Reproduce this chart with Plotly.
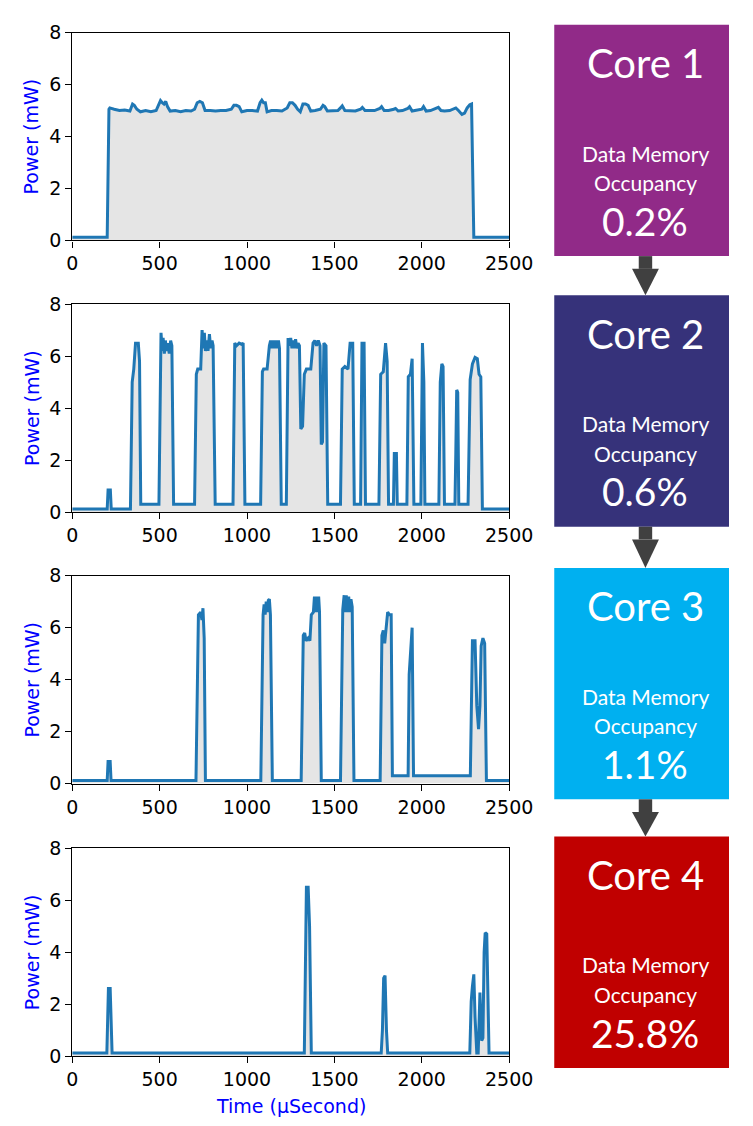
import plotly.graph_objects as go

W, H = 753, 1126

# ---------------- data ----------------
T1 = [0, 200, 210, 215, 240, 270, 300, 330, 345, 355, 370, 390, 420, 450, 480, 495, 505, 515, 525, 535, 545, 560, 590, 620, 650, 680, 700, 715, 730, 745, 760, 790, 820, 850, 880, 910, 925, 940, 955, 970, 1000, 1030, 1060, 1075, 1085, 1095, 1105, 1115, 1140, 1170, 1200, 1230, 1245, 1260, 1275, 1290, 1305, 1320, 1335, 1350, 1365, 1390, 1420, 1435, 1445, 1460, 1490, 1520, 1535, 1545, 1560, 1590, 1620, 1650, 1660, 1675, 1700, 1730, 1760, 1770, 1785, 1810, 1840, 1850, 1865, 1890, 1920, 1930, 1945, 1970, 2000, 2010, 2025, 2050, 2080, 2095, 2110, 2130, 2160, 2185, 2195, 2210, 2230, 2245, 2260, 2275, 2285, 2298, 2500]
P1 = [0.12, 0.12, 5.05, 5.1, 5.05, 5.0, 5.02, 4.98, 5.25, 5.2, 5.05, 4.95, 5.0, 4.95, 5.0, 5.2, 5.38, 5.3, 5.25, 5.35, 5.15, 4.98, 5.0, 4.95, 5.0, 4.98, 5.05, 5.3, 5.35, 5.3, 5.0, 5.0, 4.98, 5.0, 5.0, 5.05, 5.2, 5.2, 5.15, 4.95, 5.0, 5.0, 4.98, 5.3, 5.4, 5.3, 5.3, 4.95, 5.0, 5.0, 4.98, 5.1, 5.3, 5.3, 5.2, 5.05, 4.95, 5.25, 5.25, 5.2, 4.98, 5.0, 5.05, 5.2, 5.15, 4.98, 5.0, 5.0, 5.1, 5.18, 5.0, 5.0, 4.98, 5.05, 5.12, 5.0, 5.0, 5.0, 5.08, 5.15, 5.0, 5.0, 5.05, 5.08, 4.98, 5.0, 5.08, 5.15, 4.98, 5.0, 5.05, 5.15, 4.98, 5.0, 5.08, 5.12, 5.0, 4.98, 5.0, 5.05, 5.1, 5.0, 4.85, 4.9, 5.1, 5.22, 5.25, 0.12, 0.12]

T2 = [0, 200, 205, 218, 223, 333, 343, 352, 362, 378, 385, 392, 496, 508, 515, 520, 527, 533, 540, 548, 555, 563, 570, 580, 700, 710, 718, 735, 743, 750, 756, 762, 770, 777, 785, 792, 800, 806, 818, 920, 930, 940, 955, 970, 978, 988, 1078, 1088, 1095, 1115, 1128, 1135, 1142, 1150, 1158, 1165, 1172, 1180, 1186, 1196, 1225, 1235, 1242, 1250, 1257, 1264, 1271, 1278, 1285, 1292, 1300, 1308, 1318, 1328, 1340, 1365, 1378, 1388, 1398, 1408, 1418, 1425, 1432, 1440, 1452, 1462, 1535, 1545, 1560, 1578, 1590, 1605, 1614, 1650, 1658, 1670, 1678, 1755, 1765, 1780, 1793, 1802, 1810, 1838, 1843, 1855, 1860, 1915, 1923, 1935, 1945, 1955, 1995, 2004, 2012, 2018, 2098, 2106, 2115, 2122, 2130, 2190, 2195, 2200, 2206, 2212, 2265, 2277, 2290, 2305, 2318, 2328, 2338, 2347, 2500]
P2 = [0.12, 0.12, 0.85, 0.85, 0.12, 0.12, 5.0, 5.5, 6.5, 6.5, 5.8, 0.3, 0.3, 6.9, 6.2, 6.7, 6.1, 6.6, 6.2, 6.5, 6.1, 6.6, 6.4, 0.3, 0.3, 5.3, 5.5, 5.5, 7.0, 6.3, 6.9, 6.2, 6.6, 6.2, 6.85, 6.3, 6.6, 6.4, 0.3, 0.3, 6.5, 6.4, 6.5, 6.45, 6.5, 0.3, 0.3, 5.4, 5.5, 5.5, 6.4, 6.6, 6.3, 6.6, 6.3, 6.6, 6.3, 6.6, 6.3, 0.3, 0.3, 6.7, 6.4, 6.7, 6.3, 6.6, 6.3, 6.65, 6.3, 6.5, 6.4, 3.2, 3.3, 5.3, 5.5, 5.5, 6.5, 6.6, 6.4, 6.6, 6.4, 2.6, 2.7, 6.5, 6.4, 0.3, 0.3, 5.5, 5.6, 5.5, 6.5, 6.5, 0.3, 0.3, 6.5, 6.5, 0.3, 0.3, 5.3, 5.4, 6.5, 5.8, 0.3, 0.3, 2.25, 2.25, 0.3, 0.3, 5.2, 5.3, 5.9, 0.3, 0.3, 6.5, 5.0, 0.3, 0.3, 5.0, 5.7, 5.6, 0.3, 0.3, 2.3, 4.7, 4.6, 0.3, 0.3, 5.1, 5.7, 5.95, 5.9, 5.3, 5.2, 0.12, 0.12]

T3 = [0, 200, 205, 217, 222, 708, 722, 735, 742, 748, 755, 762, 1079, 1092, 1098, 1104, 1110, 1116, 1122, 1128, 1134, 1145, 1310, 1322, 1330, 1338, 1350, 1360, 1368, 1380, 1386, 1392, 1398, 1404, 1410, 1415, 1425, 1535, 1548, 1556, 1562, 1568, 1575, 1582, 1588, 1595, 1602, 1612, 1762, 1772, 1780, 1788, 1795, 1805, 1815, 1825, 1832, 1922, 1928, 1936, 1945, 1953, 2278, 2290, 2305, 2315, 2325, 2333, 2340, 2350, 2360, 2370, 2500]
P3 = [0.12, 0.12, 0.85, 0.85, 0.12, 0.12, 6.5, 6.6, 6.3, 6.75, 5.6, 0.12, 0.12, 6.5, 6.9, 6.5, 7.0, 6.6, 7.05, 7.1, 6.5, 0.12, 0.12, 5.7, 5.8, 5.5, 5.6, 5.5, 6.5, 6.6, 7.2, 6.6, 7.2, 6.6, 7.2, 6.6, 0.12, 0.12, 6.7, 7.25, 6.6, 7.25, 6.6, 7.2, 6.6, 7.1, 6.8, 0.12, 0.12, 5.7, 5.9, 5.4, 5.9, 6.6, 6.5, 6.5, 0.3, 0.3, 4.2, 5.0, 6.0, 0.3, 0.3, 5.5, 5.5, 3.0, 2.1, 3.0, 5.3, 5.6, 5.4, 0.12, 0.12]

T4 = [0, 198, 207, 217, 228, 1328, 1340, 1350, 1358, 1368, 1768, 1775, 1782, 1790, 1798, 1805, 2275, 2283, 2290, 2298, 2305, 2315, 2323, 2333, 2343, 2350, 2357, 2363, 2372, 2385, 2500]
P4 = [0.12, 0.12, 2.6, 2.6, 0.12, 0.12, 6.5, 6.5, 5.0, 0.12, 0.12, 1.0, 3.0, 3.1, 1.0, 0.12, 0.12, 2.1, 2.7, 3.15, 1.5, 0.12, 0.12, 2.45, 0.6, 0.7, 4.0, 4.75, 4.7, 0.12, 0.12]

CORE_NAMES = ["Core 1", "Core 2", "Core 3", "Core 4"]
OCCUPANCY = ["0.2%", "0.6%", "1.1%", "25.8%"]
BOX_COLORS = ["#912a88", "#36327a", "#00b0f0", "#c00000"]
X_TICKS = [0, 500, 1000, 1500, 2000, 2500]
Y_TICKS = [0, 2, 4, 6, 8]

series = [(T1, P1), (T2, P2), (T3, P3), (T4, P4)]

# ---------------- layout helpers ----------------
def px_x(p):
    return p / W

def px_y(p):
    return 1 - p / H

plot_tops = [22, 299, 576, 854]
plot_h = 212
x_left, x_right = 69, 524
box_tops = [14, 290, 568, 842]
box_h = 236
box_x0 = 571
text_cx = 666

fig = go.Figure()
layout = dict(
    autosize=True,
    margin=dict(l=0, r=0, t=0, b=0, pad=0),
    paper_bgcolor="white", plot_bgcolor="white",
    showlegend=False,
)

shapes = []
annotations = []
tickfont = dict(family="DejaVu Sans", size=19, color="black")

for i, (t, p) in enumerate(series):
    n = "" if i == 0 else str(i + 1)
    fig.add_trace(go.Scatter(
        x=t, y=p, mode="lines", fill="tozeroy",
        fillcolor="#e5e5e5",
        line=dict(color="#1f77b4", width=3),
        xaxis="x" + n, yaxis="y" + n, hoverinfo="skip",
    ))
    top = plot_tops[i]
    layout["xaxis" + n] = dict(
        domain=[px_x(x_left), px_x(x_right)], anchor="y" + n,
        range=[0, 2500], tickvals=X_TICKS, ticks="outside", ticklen=6,
        tickwidth=1.3, tickcolor="black",
        showline=True, linecolor="black", linewidth=1.3, mirror=True,
        showgrid=False, zeroline=False, tickfont=tickfont,
    )
    layout["yaxis" + n] = dict(
        domain=[px_y(top + plot_h), px_y(top)], anchor="x" + n,
        range=[0, 8], tickvals=Y_TICKS, ticks="outside", ticklen=6,
        tickwidth=1.3, tickcolor="black",
        showline=True, linecolor="black", linewidth=1.3, mirror=True,
        showgrid=False, zeroline=False, tickfont=tickfont,
    )
    annotations.append(dict(
        text="Power (mW)", textangle=-90, xref="paper", yref="paper",
        x=px_x(27), y=px_y(top + plot_h / 2), showarrow=False,
        font=dict(family="DejaVu Sans", size=19, color="#0000ff"),
        xanchor="center", yanchor="middle",
    ))

annotations.append(dict(
    text="Time (µSecond)", xref="paper", yref="paper",
    x=px_x((x_left + x_right) / 2), y=px_y(1117), showarrow=False,
    font=dict(family="DejaVu Sans", size=19, color="#0000ff"),
    xanchor="center", yanchor="middle",
))

box_font = "Lato, 'Open Sans', sans-serif"
for i in range(4):
    bt = box_tops[i]
    shapes.append(dict(
        type="rect", xref="paper", yref="paper",
        x0=px_x(box_x0), x1=1.0, y0=px_y(bt + box_h), y1=px_y(bt),
        fillcolor=BOX_COLORS[i], line=dict(width=0), layer="above",
    ))
    annotations.append(dict(
        text=CORE_NAMES[i], xref="paper", yref="paper",
        x=px_x(text_cx), y=px_y(bt + 39), showarrow=False,
        font=dict(family=box_font, size=40, color="white"),
        xanchor="center", yanchor="middle",
    ))
    annotations.append(dict(
        text="Data Memory", xref="paper", yref="paper",
        x=px_x(text_cx), y=px_y(bt + 131), showarrow=False,
        font=dict(family=box_font, size=21, color="white"),
        xanchor="center", yanchor="middle",
    ))
    annotations.append(dict(
        text="Occupancy", xref="paper", yref="paper",
        x=px_x(text_cx), y=px_y(bt + 161), showarrow=False,
        font=dict(family=box_font, size=21, color="white"),
        xanchor="center", yanchor="middle",
    ))
    annotations.append(dict(
        text=OCCUPANCY[i], xref="paper", yref="paper",
        x=px_x(text_cx), y=px_y(bt + 200), showarrow=False,
        font=dict(family=box_font, size=39, color="white"),
        xanchor="center", yanchor="middle",
    ))
    if i < 3:
        a0 = bt + box_h
        a1 = box_tops[i + 1]
        cx = 666
        shaft_end = a0 + 13
        shapes.append(dict(
            type="rect", xref="paper", yref="paper",
            x0=px_x(cx - 7), x1=px_x(cx + 7), y0=px_y(shaft_end), y1=px_y(a0),
            fillcolor="#404040", line=dict(width=0),
        ))
        path = "M {} {} L {} {} L {} {} Z".format(
            px_x(cx - 14), px_y(shaft_end), px_x(cx + 14), px_y(shaft_end),
            px_x(cx), px_y(a1))
        shapes.append(dict(
            type="path", xref="paper", yref="paper", path=path,
            fillcolor="#404040", line=dict(width=0),
        ))

layout["shapes"] = shapes
layout["annotations"] = annotations
fig.update_layout(**layout)
fig.write_html(
    "out.html",
    config={"displayModeBar": False, "responsive": True},
    default_width="100vw",
    default_height="100vh",
    post_script=(
        "document.documentElement.style.margin='0';"
        "document.documentElement.style.overflow='hidden';"
        "document.body.style.margin='0';document.body.style.padding='0';"
        "document.body.style.overflow='hidden';"
        "var gd=document.getElementById('{plot_id}');"
        "gd.style.width=window.innerWidth+'px';gd.style.height=window.innerHeight+'px';"
        "Plotly.Plots.resize(gd);"
    ),
)
